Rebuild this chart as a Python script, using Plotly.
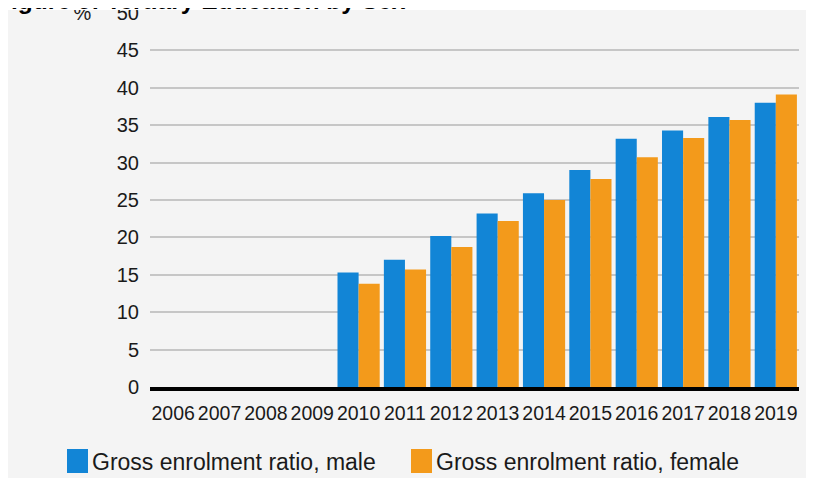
import plotly.graph_objects as go

years = ["2006", "2007", "2008", "2009", "2010", "2011", "2012", "2013",
         "2014", "2015", "2016", "2017", "2018", "2019"]
male = [None, None, None, None, 15.3, 17.0, 20.2, 23.2, 25.9, 29.0, 33.2, 34.3, 36.1, 38.0]
female = [None, None, None, None, 13.8, 15.7, 18.7, 22.2, 25.0, 27.8, 30.7, 33.3, 35.7, 39.1]
series_names = ["Gross enrolment ratio, male", "Gross enrolment ratio, female"]
colors = ["#1285d6", "#f39a1b"]
tick_vals = [0, 5, 10, 15, 20, 25, 30, 35, 40, 45, 50]
tick_text = ["0", "5", "10", "15", "20", "25", "30", "35", "40", "45", "%\u2003 50"]
title_text = "Figure 9: Tertiary Education by Sex"

# the page body has an 8px margin, so the figure is placed at (8, 8)
OFF = 8
W, H = 814 - OFF, 478 - OFF
ML, MR, MT, MB = 150 - OFF, 15, 13 - OFF, 91
PW, PH = W - ML - MR, H - MT - MB


def px_x(p):
    # page pixel -> paper x
    return (p - OFF - ML) / PW


def px_y(p):
    # page pixel -> paper y
    return 1 - (p - OFF - MT) / PH


fig = go.Figure()
for name, vals, col in zip(series_names, [male, female], colors):
    fig.add_trace(go.Bar(x=years, y=vals, name=name, marker=dict(color=col, line=dict(width=0)),
                         showlegend=False))

shapes = []
annotations = [
    # white strip at the top of the (cropped) page, covering the top of the axis labels
    dict(text=".", xref="paper", yref="paper", x=px_x(-10), y=px_y(10),
         xanchor="left", yanchor="bottom", width=840, height=40, bgcolor="white",
         bordercolor="white", borderpad=0, borderwidth=0, showarrow=False,
         font=dict(size=4, color="white")),
    dict(text="<b>" + title_text + "</b>", xref="paper", yref="paper", x=px_x(-6), y=px_y(16),
         xanchor="left", yanchor="bottom", showarrow=False,
         font=dict(family="Liberation Sans, Arial", size=24.5, color="black")),
]
# custom legend
leg_x = [67, 411]
for i, (name, col) in enumerate(zip(series_names, colors)):
    shapes.append(dict(type="rect", xref="paper", yref="paper", x0=px_x(leg_x[i]), x1=px_x(leg_x[i] + 21),
                       y0=px_y(473), y1=px_y(449), fillcolor=col, line=dict(width=0)))
    annotations.append(dict(text=name, xref="paper", yref="paper", x=px_x(leg_x[i] + 23), y=px_y(462),
                            xanchor="left", yanchor="middle", showarrow=False,
                            font=dict(family="Liberation Sans, Arial", size=23, color="#1a1a1a")))

fig.update_layout(
    width=W, height=H,
    margin=dict(l=ML, r=MR, t=MT, b=MB, autoexpand=False),
    paper_bgcolor="#f4f4f4", plot_bgcolor="#f4f4f4",
    barmode="group", bargap=0.09, bargroupgap=0,
    font=dict(family="Liberation Sans, Arial", size=20, color="#1a1a1a"),
    shapes=shapes, annotations=annotations,
    xaxis=dict(type="category", automargin=False, showgrid=False, showline=True,
               linecolor="black", linewidth=4, tickangle=0,
               ticks="", tickfont=dict(size=19.5), ticklabelstandoff=6),
    yaxis=dict(range=[0, 50], automargin=False, tickvals=tick_vals, ticktext=tick_text,
               showgrid=True, gridcolor="#c6c6c6", gridwidth=2, zeroline=False, showline=False,
               ticks="", tickfont=dict(size=20), ticklabelstandoff=10,
               ticklabeloverflow="allow"),
)

fig.write_html("out.html")
